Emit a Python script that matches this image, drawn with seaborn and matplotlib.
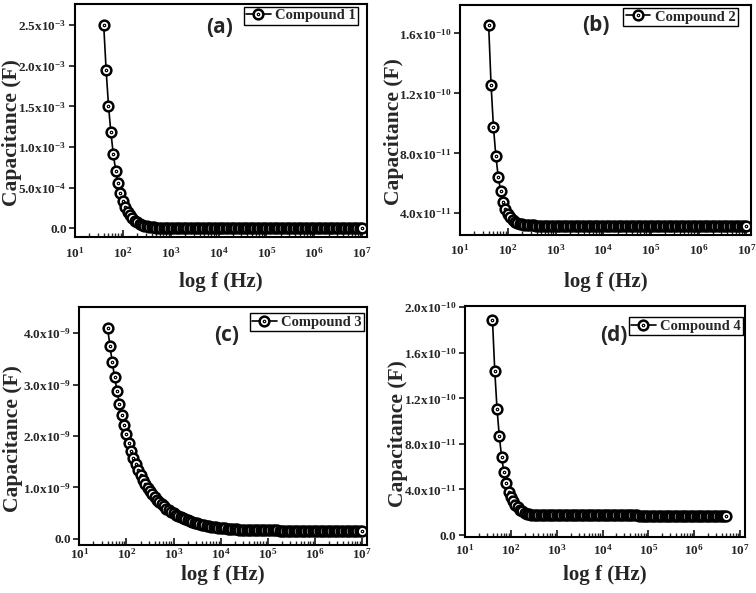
"""Capacitance vs frequency for compounds 1-4, four panel figure."""

import numpy as np
import pandas as pd
import matplotlib
matplotlib.use('Agg')
import matplotlib.pyplot as plt
from matplotlib.path import Path
from matplotlib.markers import MarkerStyle
from matplotlib.ticker import LogLocator, NullFormatter
import seaborn as sns

# frequency sweep (Hz)
freq_hz = [
   39.8, 44.7, 50.1, 56.2, 63.1, 70.8, 79.4, 89.1,
   100, 112, 126, 141, 158, 178, 200, 224, 251, 282,
   316, 355, 398, 447, 501, 562, 631, 708, 794, 891,
   1.00e3, 1.12e3, 1.26e3, 1.41e3, 1.58e3, 1.78e3, 2.00e3, 2.24e3, 2.51e3, 2.82e3,
   3.16e3, 3.55e3, 3.98e3, 4.47e3, 5.01e3, 5.62e3, 6.31e3, 7.08e3, 7.94e3, 8.91e3,
   1.00e4, 1.12e4, 1.26e4, 1.41e4, 1.58e4, 1.78e4, 2.00e4, 2.24e4, 2.51e4, 2.82e4,
   3.16e4, 3.55e4, 3.98e4, 4.47e4, 5.01e4, 5.62e4, 6.31e4, 7.08e4, 7.94e4, 8.91e4,
   1.00e5, 1.12e5, 1.26e5, 1.41e5, 1.58e5, 1.78e5, 2.00e5, 2.24e5, 2.51e5, 2.82e5,
   3.16e5, 3.55e5, 3.98e5, 4.47e5, 5.01e5, 5.62e5, 6.31e5, 7.08e5, 7.94e5, 8.91e5,
   1.00e6, 1.12e6, 1.26e6, 1.41e6, 1.58e6, 1.78e6, 2.00e6, 2.24e6, 2.51e6, 2.82e6,
   3.16e6, 3.55e6, 3.98e6, 4.47e6, 5.01e6, 5.62e6, 6.31e6, 7.08e6, 7.94e6, 8.91e6,
   1.00e7]

# Compound 1, capacitance in mF
cap1_mF = [
   2.50, 1.95, 1.51, 1.18, 0.915, 0.712, 0.553, 0.430, 0.335,
   0.262, 0.205, 0.160, 0.124, 0.096, 0.074, 0.057, 0.044, 0.034, 0.026, 0.020, 0.015,
   0.011, 0.0085, 0.0065, 0.005, 0.0038, 0.003, 0.0024, 0.0019, 0.0015, 0.0012,
   0.001, 0.0009, 0.0008, 0.0007,
   0.0006, 0.0006, 0.0006, 0.0006, 0.0006, 0.0006, 0.0006, 0.0006, 0.0006, 0.0006,
   0.0005, 0.0005, 0.0005, 0.0005, 0.0005, 0.0005, 0.0005, 0.0005, 0.0005, 0.0005,
   0.0005, 0.0005, 0.0005, 0.0005, 0.0005, 0.0005, 0.0005, 0.0005, 0.0005, 0.0005,
   0.0004, 0.0004, 0.0004, 0.0004, 0.0004, 0.0004, 0.0004, 0.0004, 0.0004, 0.0004,
   0.0004, 0.0004, 0.0004, 0.0004, 0.0004, 0.0004, 0.0004, 0.0004, 0.0004, 0.0004,
   0.0004, 0.0004, 0.0004, 0.0004, 0.0003, 0.0003, 0.0003, 0.0003, 0.0003, 0.0003,
   0.0003, 0.0003, 0.0003, 0.0003, 0.0003, 0.0003, 0.0003, 0.0003, 0.0003, 0.0003,
   0.0003, 0.0003, 0.0003, 0.0003]

# Compound 2, capacitance in units of 1e-11 F
cap2_e11 = [
   16.55, 12.56, 9.78, 7.84, 6.45, 5.49, 4.78, 4.30, 3.98,
   3.74, 3.57, 3.45, 3.36, 3.30, 3.26, 3.23, 3.21, 3.20, 3.19, 3.185, 3.18,
   3.18, 3.18, 3.18, 3.18, 3.18, 3.18, 3.18, 3.18, 3.18, 3.18,
   3.18, 3.18, 3.18, 3.18, 3.18, 3.18, 3.18, 3.18, 3.18, 3.18,
   3.175, 3.175, 3.175, 3.175, 3.175, 3.175, 3.175, 3.175, 3.175, 3.175,
   3.175, 3.175, 3.175, 3.175, 3.175, 3.175, 3.175, 3.175, 3.175, 3.175,
   3.175, 3.175, 3.175, 3.175, 3.175, 3.175, 3.175, 3.175, 3.175, 3.175,
   3.17, 3.17, 3.17, 3.17, 3.17, 3.17, 3.17, 3.17, 3.17, 3.17,
   3.17, 3.17, 3.17, 3.17, 3.17, 3.17, 3.17, 3.17, 3.17, 3.17,
   3.17, 3.17, 3.17, 3.17, 3.17, 3.17, 3.17, 3.17, 3.17, 3.17,
   3.17, 3.17, 3.17, 3.17, 3.17, 3.17, 3.17, 3.17]

# Compound 3, capacitance in nF
cap3_nF = [
   4.10, 3.75, 3.43, 3.14, 2.88, 2.63, 2.41, 2.21, 2.03, 1.86,
   1.71, 1.57, 1.45, 1.34, 1.24, 1.15, 1.07, 0.99, 0.93, 0.87,
   0.81, 0.76, 0.71, 0.67, 0.63, 0.59, 0.56, 0.53, 0.50,
   0.47, 0.45, 0.42, 0.40, 0.38, 0.36, 0.34, 0.33, 0.31, 0.30,
   0.29, 0.275, 0.265, 0.255, 0.247, 0.239, 0.231, 0.225, 0.218, 0.213,
   0.208, 0.203, 0.199, 0.195, 0.191, 0.187, 0.184, 0.181, 0.179, 0.176,
   0.174, 0.172,
   0.170, 0.169, 0.168, 0.168, 0.167, 0.166, 0.166, 0.165, 0.165, 0.164,
   0.163, 0.163, 0.162, 0.162, 0.161, 0.161, 0.160, 0.160, 0.159, 0.159,
   0.158, 0.158, 0.157, 0.157, 0.157, 0.156, 0.156, 0.156, 0.155, 0.155,
   0.155, 0.154, 0.154, 0.154, 0.153, 0.153, 0.153, 0.153, 0.152, 0.152,
   0.152, 0.152, 0.151, 0.151, 0.151, 0.151, 0.150, 0.150]

# Compound 4, capacitance in units of 1e-11 F (sweep stops near 5 MHz)
cap4_e11 = [
   18.9, 14.4, 11.05, 8.65, 6.82, 5.50, 4.55, 3.82, 3.35, 3.00,
   2.68, 2.42, 2.22, 2.07, 1.96, 1.88, 1.82, 1.78, 1.76, 1.745,
   1.735, 1.73, 1.725, 1.72,
   1.72, 1.72, 1.72, 1.72, 1.72, 1.72, 1.72, 1.72, 1.72, 1.72,
   1.72, 1.72, 1.72, 1.72, 1.72, 1.72, 1.72, 1.72, 1.72, 1.72,
   1.72, 1.72, 1.72, 1.72, 1.72, 1.72, 1.72, 1.72, 1.72, 1.72,
   1.72, 1.72, 1.72, 1.72, 1.72, 1.72, 1.72, 1.72, 1.72, 1.72,
   1.715, 1.715, 1.715, 1.715, 1.715, 1.715, 1.715, 1.715, 1.715, 1.715,
   1.715, 1.715, 1.715, 1.715, 1.715, 1.715, 1.715, 1.715, 1.715, 1.715,
   1.715, 1.715, 1.715, 1.715, 1.715, 1.715, 1.715, 1.715, 1.715, 1.715,
   1.715, 1.715, 1.715, 1.715, 1.715, 1.715, 1.715, 1.715, 1.715]

names = ['Compound 1', 'Compound 2', 'Compound 3', 'Compound 4']
tags = ['(a)', '(b)', '(c)', '(d)']

yticks_a = [0, 0.5e-3, 1.0e-3, 1.5e-3, 2.0e-3, 2.5e-3]
ylabels_a = ['0.0', '5.0x10$^{-4}$', '1.0x10$^{-3}$', '1.5x10$^{-3}$',
             '2.0x10$^{-3}$', '2.5x10$^{-3}$']
yticks_b = [4e-11, 8e-11, 1.2e-10, 1.6e-10]
ylabels_b = ['4.0x10$^{-11}$', '8.0x10$^{-11}$', '1.2x10$^{-10}$', '1.6x10$^{-10}$']
yticks_c = [0, 1e-9, 2e-9, 3e-9, 4e-9]
ylabels_c = ['0.0', '1.0x10$^{-9}$', '2.0x10$^{-9}$', '3.0x10$^{-9}$', '4.0x10$^{-9}$']
yticks_d = [0, 4e-11, 8e-11, 1.2e-10, 1.6e-10, 2.0e-10]
ylabels_d = ['0.0', '4.0x10$^{-11}$', '8.0x10$^{-11}$', '1.2x10$^{-10}$',
             '1.6x10$^{-10}$', '2.0x10$^{-10}$']
xticks = [1e1, 1e2, 1e3, 1e4, 1e5, 1e6, 1e7]
xlabels = ['$10^{1}$', '$10^{2}$', '$10^{3}$', '$10^{4}$', '$10^{5}$', '$10^{6}$', '$10^{7}$']


sns.set_style('ticks')
plt.rcParams['font.family'] = ['Liberation Serif', 'DejaVu Serif']
plt.rcParams['font.weight'] = 'bold'
plt.rcParams['mathtext.fontset'] = 'custom'
plt.rcParams['mathtext.rm'] = 'Liberation Serif:bold'
plt.rcParams['mathtext.it'] = 'Liberation Serif:bold:italic'
plt.rcParams['mathtext.bf'] = 'Liberation Serif:bold'
plt.rcParams['axes.linewidth'] = 1.5

# open circle with a dot in the middle (Origin style symbol)
ring_dot = MarkerStyle(Path.make_compound_path(Path.unit_circle(),
                                               Path.circle((0, 0), 0.12)))


def plot_panel(ax, freq, cap, name, tag, yticks, ylabels, ylim,
               tag_xy, leg_xy, xlab_y, ylab_x, xpad=6):
   df = pd.DataFrame({'freq': freq, 'cap': cap})
   sns.lineplot(data=df, x='freq', y='cap', ax=ax, color='black', lw=1.2,
                marker=ring_dot, markersize=7, markerfacecolor='white',
                markeredgecolor='black', markeredgewidth=1.8,
                label=name, errorbar=None)
   ax.set_xscale('log')
   ax.set_xlim(10, 1.25e7)
   ax.set_xticks(xticks)
   ax.set_xticklabels(xlabels)
   ax.xaxis.set_minor_locator(LogLocator(base=10, subs=np.arange(2, 10)))
   ax.xaxis.set_minor_formatter(NullFormatter())
   ax.set_ylim(*ylim)
   ax.set_yticks(yticks)
   ax.set_yticklabels(ylabels)
   ax.tick_params(axis='x', which='major', direction='in', length=5, width=1.3,
                  labelsize=9.5, pad=xpad)
   ax.tick_params(axis='x', which='minor', direction='in', length=3, width=1.0)
   ax.tick_params(axis='y', which='major', direction='out', length=4, width=1.3,
                  labelsize=9.5, pad=2)
   ax.set_xlabel('log f (Hz)', fontsize=15, fontweight='bold')
   ax.set_ylabel('Capacitance (F)', fontsize=15.5, fontweight='bold')
   ax.xaxis.set_label_coords(0.5, xlab_y)
   ax.yaxis.set_label_coords(ylab_x, 0.45)
   ax.text(tag_xy[0], tag_xy[1], tag, transform=ax.transAxes, ha='center',
           va='center', fontsize=15, fontweight='bold', family='Open Sans')
   leg = ax.legend(loc='upper right', bbox_to_anchor=leg_xy, frameon=True,
                   fancybox=False, edgecolor='black', framealpha=1,
                   borderpad=0.15, handlelength=1.7, handletextpad=0.3,
                   borderaxespad=0, prop={'family': 'Liberation Serif',
                                          'weight': 'bold', 'size': 10.5})
   leg.get_frame().set_linewidth(1.0)
   for s in ax.spines.values():
      s.set_color('black')


def main():
   fig = plt.figure(figsize=(7.56, 5.93), dpi=100)
   fig.patch.set_facecolor('white')

   ax_a = fig.add_axes([0.0992, 0.5998, 0.386, 0.3934])
   ax_b = fig.add_axes([0.6085, 0.6037, 0.385, 0.3879])
   ax_c = fig.add_axes([0.1049, 0.0809, 0.380, 0.4008])
   ax_d = fig.add_axes([0.6150, 0.0939, 0.370, 0.3900])

   plot_panel(ax_a, freq_hz, np.array(cap1_mF) * 1e-3, names[0], tags[0],
              yticks_a, ylabels_a, (-1.1e-4, 2.76e-3),
              (0.494, 0.899), (0.970, 0.987), -0.149, -0.182)
   plot_panel(ax_b, freq_hz, np.array(cap2_e11) * 1e-11, names[1], tags[1],
              yticks_b, ylabels_b, (2.55e-11, 1.79e-10),
              (0.467, 0.910), (0.954, 0.986), -0.161, -0.194)
   plot_panel(ax_c, freq_hz, np.array(cap3_nF) * 1e-9, names[2], tags[2],
              yticks_c, ylabels_c, (-1.2e-10, 4.5e-9),
              (0.513, 0.883), (0.990, 0.975), -0.082, -0.195, xpad=1.5)
   plot_panel(ax_d, freq_hz[:len(cap4_e11)], np.array(cap4_e11) * 1e-11,
              names[3], tags[3], yticks_d, ylabels_d, (-0.2e-11, 2.01e-10),
              (0.532, 0.871), (0.994, 0.951), -0.120, -0.2025, xpad=4)

   fig.savefig('out.png', dpi=100, facecolor='white')


if __name__ == '__main__':
   main()
